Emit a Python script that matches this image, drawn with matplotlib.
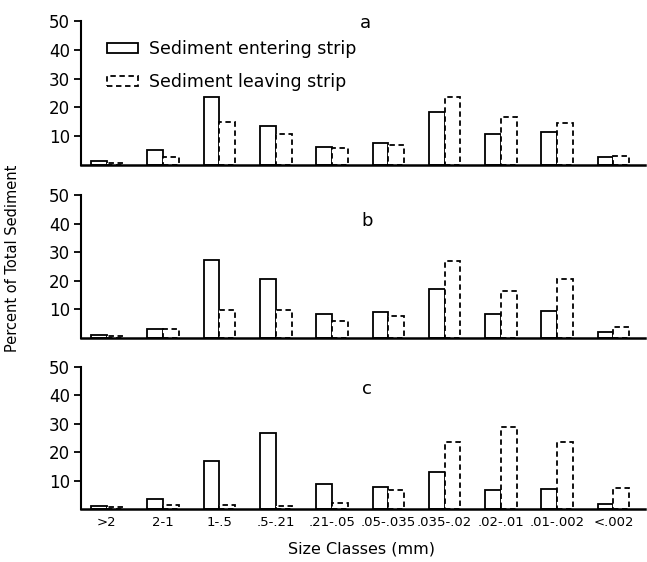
import numpy as np
import matplotlib
matplotlib.use("Agg")
import matplotlib.pyplot as plt

# size classes (mm)
size_classes = [">2", "2-1", "1-.5", ".5-.21", ".21-.05", ".05-.035",
                ".035-.02", ".02-.01", ".01-.002", "<.002"]

# percent of total sediment
a_entering = [1.3, 5.2, 23.7, 13.5, 6.2, 7.7, 18.5, 10.6, 11.3, 2.7]
a_leaving = [0.8, 2.9, 15.0, 10.8, 5.8, 7.0, 23.5, 16.7, 14.7, 3.2]

b_entering = [0.9, 3.0, 27.3, 20.7, 8.4, 9.2, 17.1, 8.3, 9.4, 2.1]
b_leaving = [0.6, 3.0, 9.8, 9.8, 6.0, 7.7, 27.0, 16.5, 20.6, 3.9]

c_entering = [0.9, 3.6, 16.9, 26.7, 8.8, 7.9, 12.9, 6.6, 7.0, 1.7]
c_leaving = [0.7, 1.4, 1.4, 1.2, 2.2, 6.7, 23.5, 28.8, 23.5, 7.3]

panels = [("a", a_entering, a_leaving),
          ("b", b_entering, b_leaving),
          ("c", c_entering, c_leaving)]

fig = plt.figure(figsize=(6.47, 5.62), dpi=100)

# axes boxes in figure fractions (left, bottom, width, height)
boxes = [(0.1252, 0.7064, 0.8717, 0.2562),
         (0.1252, 0.3986, 0.8717, 0.2544),
         (0.1252, 0.0943, 0.8717, 0.2527)]
label_pos = [(0.504, 0.985), (0.507, 0.818), (0.507, 0.845)]

x = np.arange(len(size_classes))
w = 0.28

for i, (name, ent, lea) in enumerate(panels):
    ax = fig.add_axes(boxes[i])
    ax.bar(x - w / 2, ent, width=w, facecolor="white", edgecolor="black",
           linewidth=1.3, label="Sediment entering strip")
    ax.bar(x + w / 2, lea, width=w, facecolor="white", edgecolor="black",
           linewidth=1.3, linestyle=(0, (3, 2)), label="Sediment leaving strip")
    ax.set_xlim(-0.46, 9.56)
    ax.set_ylim(0, 50)
    ax.set_yticks([10, 20, 30, 40, 50])
    ax.set_yticklabels(["10", "20", "30", "40", "50"], fontsize=12)
    ax.tick_params(axis="y", direction="out", length=5, width=1.3, pad=3)
    ax.spines["top"].set_visible(False)
    ax.spines["right"].set_visible(False)
    ax.spines["left"].set_linewidth(1.5)
    ax.spines["bottom"].set_linewidth(1.8)
    if i == 2:
        ax.set_xticks(x)
        ax.set_xticklabels(size_classes, fontsize=9.5)
        ax.tick_params(axis="x", length=0, pad=5)
    else:
        ax.set_xticks([])
    ax.text(label_pos[i][0], label_pos[i][1], name, transform=ax.transAxes,
            fontsize=13, ha="center", va="center")
    if i == 0:
        ax.legend(loc="upper left", bbox_to_anchor=(0.046, 0.87), frameon=False,
                  fontsize=12.5, handlelength=1.8, handleheight=0.5,
                  handletextpad=0.62, labelspacing=0.9,
                  borderpad=0, borderaxespad=0)

fig.text(0.02, 1 - 258 / 562, "Percent of Total Sediment", rotation=90,
         fontsize=10.5, ha="center", va="center")
fig.text(362 / 647, 1 - 549 / 562, "Size Classes (mm)", fontsize=11.5,
         ha="center", va="center")

fig.savefig("out.png", dpi=100)
